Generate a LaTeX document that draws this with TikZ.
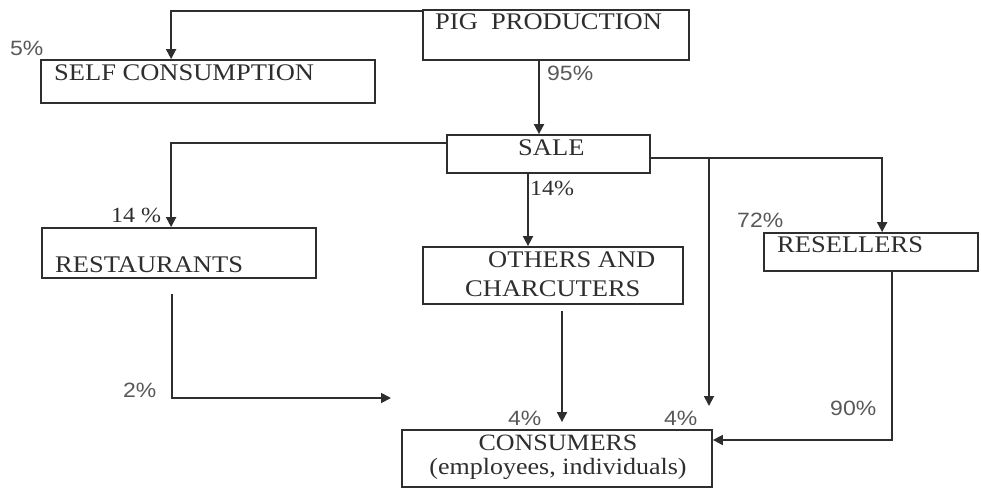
\documentclass[tikz,border=0pt]{standalone}
\usepackage{fontspec}
\setmainfont{Liberation Serif}
\newfontfamily\pctfont{Liberation Sans}
\usetikzlibrary{arrows.meta,calc}
\definecolor{ink}{HTML}{2E2E2E}
\newcommand{\sqz}[1]{\scalebox{1}[0.9]{#1}}
\tikzset{
  box/.style={draw=ink, line width=1.8pt, inner sep=0pt, rectangle},
  arr/.style={draw=ink, line width=1.8pt, -{Triangle[width=10pt,length=10pt]}},
  lbl/.style={anchor=base west, inner sep=0pt, text=ink, font=\fontsize{26.5}{30}\selectfont},
  pct/.style={anchor=base west, inner sep=0pt, text=ink!80, font=\pctfont\fontsize{23}{26}\selectfont},
}
\begin{document}
\begin{tikzpicture}[x=1pt,y=-1pt]
\useasboundingbox (0,0) rectangle (981,488);
% boxes
\node[box, minimum width=266pt, minimum height=50pt] (pig)  at (556,35) {};
\node[box, minimum width=334pt, minimum height=43pt] (self) at (208,81.5) {};
\node[box, minimum width=203pt, minimum height=38pt] (sale) at (548.5,154) {};
\node[box, minimum width=274pt, minimum height=50pt] (rest) at (179,253) {};
\node[box, minimum width=260pt, minimum height=57pt] (oth)  at (553,275.5) {};
\node[box, minimum width=214pt, minimum height=38pt] (res)  at (871,252) {};
\node[box, minimum width=310pt, minimum height=57pt] (cons) at (557,458.5) {};
% box texts
\node[lbl] (tpig)  at (435,29)  {\sqz{PIG\ \ PRODUCTION}};
\node[lbl] (tself) at (54,80)   {\sqz{SELF CONSUMPTION}};
\node[lbl] (tsale) at (518,155) {\sqz{SALE}};
\node[lbl] (trest) at (55,272)  {\sqz{RESTAURANTS}};
\node[lbl] (toth1) at (488,267) {\sqz{OTHERS AND}};
\node[lbl] (toth2) at (465,296) {\sqz{CHARCUTERS}};
\node[lbl] (tres)  at (777,252) {\sqz{RESELLERS}};
\node[inner sep=0pt, text=ink, align=center, font=\fontsize{26}{24}\selectfont] (tcon) at (558,457.5)
  {\sqz{CONSUMERS}\\\sqz{(employees, individuals)}};
% percentage labels
\node[pct] (p5)  at (10,55)   {\sqz{5\%}};
\node[pct] (p95) at (547,80)  {\sqz{95\%}};
\node[pct] (p72) at (737,227) {\sqz{72\%}};
\node[pct] (p2)  at (123,397) {\sqz{2\%}};
\node[pct] (p4a) at (508,425) {\sqz{4\%}};
\node[pct] (p4b) at (664,425) {\sqz{4\%}};
\node[pct] (p90) at (830,415) {\sqz{90\%}};
\node[lbl, font=\fontsize{24}{27}\selectfont] (p14a) at (530,195) {\sqz{14\%}};
\node[lbl, font=\fontsize{24}{27}\selectfont] (p14b) at (111,222) {\sqz{14 \%}};
% free ends
\coordinate (jsale) at (709,158);
\coordinate (esale) at (709,406);
\coordinate (erest) at (391,398);
% connectors
\draw[arr] ([yshift=-2pt]pig.north west) -| ([xshift=131pt]self.north west);
\draw[arr] ([xshift=-17pt]pig.south) -- ([xshift=-17pt]pig.south |- sale.north);
\draw[arr] ([yshift=-9pt]sale.north west) -| ([xshift=130pt]rest.north west);
\draw[arr] ([xshift=-20.5pt]sale.south) -- ([xshift=-20.5pt]sale.south |- oth.north);
\draw[arr] ([yshift=-4pt]sale.east) -| ([xshift=119pt]res.north west);
\draw[arr] (jsale) -- (esale);
\draw[arr] ([xshift=21pt]res.south) |- ([yshift=18.5pt]cons.east);
\draw[arr] ([xshift=9pt,yshift=-6pt]oth.south) -- ([xshift=5pt,yshift=7pt]cons.north);
\draw[arr] ([xshift=-7pt,yshift=-15pt]rest.south) |- (erest);
\end{tikzpicture}
\end{document}
